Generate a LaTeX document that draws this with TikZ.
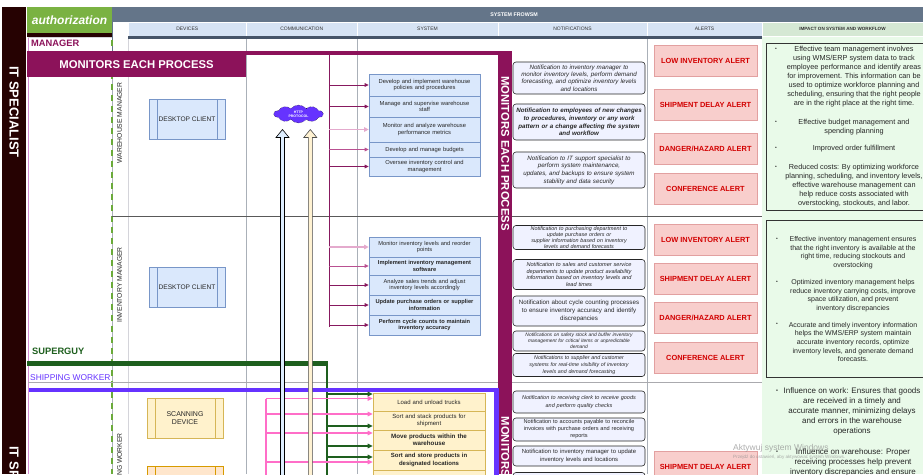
\documentclass[tikz,border=0pt]{standalone}
\usepackage{fontspec}
\setmainfont{Liberation Sans}
\usetikzlibrary{shapes.symbols,arrows.meta,calc}
\definecolor{darkbar}{RGB}{38,2,2}
\definecolor{authgreen}{RGB}{122,178,66}
\definecolor{slate}{RGB}{100,117,137}
\definecolor{slatedark}{RGB}{70,84,104}
\definecolor{hdrblue}{RGB}{214,227,244}
\definecolor{hdrgreen}{RGB}{213,232,212}
\definecolor{panelgreen}{RGB}{233,250,233}
\definecolor{maroon}{RGB}{140,18,90}
\definecolor{arrmaroon}{RGB}{135,25,95}
\definecolor{arrmid}{RGB}{185,80,145}
\definecolor{arrlight}{RGB}{228,170,205}
\definecolor{sysfill}{RGB}{218,232,252}
\definecolor{sysline}{RGB}{120,150,200}
\definecolor{begefill}{RGB}{255,242,204}
\definecolor{begeline}{RGB}{214,182,86}
\definecolor{orfill}{RGB}{255,230,204}
\definecolor{orline}{RGB}{215,155,0}
\definecolor{notiffill}{RGB}{240,242,255}
\definecolor{alertfill}{RGB}{248,206,204}
\definecolor{alertline}{RGB}{226,160,160}
\definecolor{alertred}{RGB}{210,0,0}
\definecolor{superg}{RGB}{30,95,30}
\definecolor{shipv}{RGB}{102,51,255}
\definecolor{hotpink}{RGB}{255,110,200}
\definecolor{dashgreen}{RGB}{106,170,58}
\definecolor{gridgray}{RGB}{170,176,184}
\definecolor{lightgrid}{RGB}{212,212,218}
\definecolor{lanepink}{RGB}{210,140,210}
\definecolor{cloudpurple}{RGB}{102,51,255}
\definecolor{arrblue}{RGB}{222,238,255}
\definecolor{arrbeige}{RGB}{255,242,210}
\newcommand{\myfs}[2]{\fontsize{#1}{#2}\selectfont}
\begin{document}
\begin{tikzpicture}[x=1pt,y=-1pt,
  sysbox/.style={draw=sysline, fill=sysfill, line width=0.7pt, minimum width=111pt, text width=109pt, align=center, inner xsep=1pt, inner ysep=0pt, font=\myfs{5.8}{6.8}, text=black!85},
  begebox/.style={sysbox, draw=begeline, fill=begefill, minimum width=112pt, text width=110pt, font=\myfs{6}{7.2}},
  notif/.style={draw=black!85, fill=notiffill, rounded corners=3pt, line width=0.6pt, minimum width=132pt, text width=130pt, align=center, inner xsep=1pt, inner ysep=0pt, text=black!85},
  alertbox/.style={draw=alertline, fill=alertfill, line width=0.9pt, minimum width=103pt, minimum height=31pt, inner sep=0pt, font=\myfs{7.4}{8}\bfseries, text=alertred},
  devblue/.style={draw=sysline, fill=sysfill, line width=0.7pt, minimum width=76pt, minimum height=40pt, inner sep=0pt, align=center, font=\myfs{6.6}{8}, text=black!85,
     path picture={\draw[line width=0.7pt, draw=sysline] ([xshift=8pt]path picture bounding box.north west) -- ([xshift=8pt]path picture bounding box.south west) ([xshift=-8pt]path picture bounding box.north east) -- ([xshift=-8pt]path picture bounding box.south east);}},
  devbege/.style={devblue, draw=begeline, fill=begefill, font=\myfs{7}{8.4},
     path picture={\draw[line width=0.7pt, draw=begeline] ([xshift=8pt]path picture bounding box.north west) -- ([xshift=8pt]path picture bounding box.south west) ([xshift=-8pt]path picture bounding box.north east) -- ([xshift=-8pt]path picture bounding box.south east);}},
  devorange/.style={devblue, draw=orline, fill=orfill,
     path picture={\draw[line width=0.7pt, draw=orline] ([xshift=8pt]path picture bounding box.north west) -- ([xshift=8pt]path picture bounding box.south west) ([xshift=-8pt]path picture bounding box.north east) -- ([xshift=-8pt]path picture bounding box.south east);}},
  hdr/.style={fill=hdrblue, draw=white, line width=0.8pt, inner sep=0pt, minimum height=14pt, font=\myfs{5}{6}, text=black!80},
  bentext/.style={align=center, inner sep=0pt, text=black!85},
  bul/.style={inner sep=0pt, font=\myfs{5}{5}, text=black!85},
  lane/.style={rotate=90, inner sep=0pt, font=\myfs{6.8}{7}, text=black!85},
  marr/.style={draw=arrmaroon, line width=0.9pt, -{Triangle[length=4pt,width=3.6pt]}},
  midarr/.style={marr, draw=arrmid},
  lightarr/.style={marr, draw=arrlight, line width=1.8pt, -{Triangle[length=4.5pt,width=4.5pt]}},
  pinkarr/.style={draw=hotpink, line width=1.4pt, -{Triangle[length=5pt,width=4.5pt]}},
  greenarr/.style={draw=superg, line width=1.2pt, -{Triangle[length=5pt,width=4.5pt]}}
]
\useasboundingbox (0,0) rectangle (923,474);
\clip (0,0) rectangle (923,474);
\fill[white] (0,0) rectangle (923,474);
% green impact panel
\fill[panelgreen] (762,22) rectangle (923,474);
% left dark bar
\fill[darkbar] (2,7) rectangle (26,474);
\node[rotate=-90, text=white, font=\myfs{13}{14}\bfseries, inner sep=0pt] (itspec) at (14,112) {IT SPECIALIST};
\node[rotate=-90, text=white, font=\myfs{13}{14}\bfseries, inner sep=0pt, anchor=west] (itspec2) at (14,446) {IT SPECIALIST};
% authorization
\fill[authgreen] (27,7) rectangle (112,33);
\fill[darkbar] (27,33) rectangle (112,36.5);
\node[text=white, font=\myfs{12}{13}\bfseries\itshape, inner sep=0pt] (auth) at (69.5,20) {authorization};
% slate header
\fill[slate] (112,7) rectangle (923,22);
\node[text=white, font=\myfs{5.3}{6}\bfseries, inner sep=0pt] (sysfr) at (514,15) {SYSTEM FROWSM};
\node[hdr, minimum width=118.5pt] (hdev) at (187.25,29) {DEVICES};
\node[hdr, minimum width=110.5pt] (hcom) at (301.75,29) {COMMUNICATION};
\node[hdr, minimum width=141pt] (hsys) at (427.5,29) {SYSTEM};
\node[hdr, minimum width=149pt] (hnot) at (572.5,29) {NOTIFICATIONS};
\node[hdr, minimum width=115pt] (hale) at (704.5,29) {ALERTS};
\node[hdr, fill=hdrgreen, minimum width=161pt, font=\myfs{4.6}{5}\bfseries] (himp) at (842.5,29) {IMPACT ON SYSTEM AND WORKFLOW};
\fill[slatedark] (128,36) rectangle (762,39);
% grid lines
\draw[slate, line width=1.2pt] (112.5,7) -- (112.5,52);
\draw[gridgray, line width=0.6pt] (112.5,52) -- (112.5,474);
\draw[dashgreen, line width=2.2pt, dash pattern=on 6pt off 5pt] (112,40) -- (112,474);
\draw[lightgrid, line width=0.6pt] (128,39) -- (128,474);
\draw[gridgray, line width=0.7pt] (246.5,39) -- (246.5,474);
\draw[gridgray, line width=0.7pt] (357,39) -- (357,474);
\draw[gridgray, line width=0.7pt] (647,39) -- (647,474);
\draw[lanepink, line width=0.8pt] (28.5,37) -- (28.5,474);
\draw[lightgrid, line width=0.6pt] (28,37.5) -- (112,37.5);
\draw[black!65, line width=0.9pt] (112,216) -- (762,216);
\draw[lightgrid!80!black, line width=0.6pt] (28,382.5) -- (762,382.5);
% manager label
\node[anchor=west, text=maroon, font=\myfs{9.3}{10}\bfseries, inner sep=0pt] (mgr) at (31,43.5) {MANAGER};
% monitors frame
\fill[maroon] (27,50.5) rectangle (512,55);
\fill[maroon] (27,51) rectangle (246,77);
\node[text=white, font=\myfs{11.3}{12}\bfseries, inner sep=0pt] (mon1) at (136.5,64.5) {MONITORS EACH PROCESS};
\fill[maroon] (498,51) rectangle (512,474);
\node[rotate=-90, text=white, font=\myfs{11.3}{12}\bfseries, inner sep=0pt] (mon2) at (505.3,153.5) {MONITORS EACH PROCESS};
\node[rotate=-90, text=white, font=\myfs{11.3}{12}\bfseries, inner sep=0pt, anchor=west] (mon3) at (505.3,416.5) {MONITORS EACH PROCESS};
% lanes
\node[lane] (lwm) at (119.5,123) {WAREHOUSE MANAGER};
\node[lane] (lim) at (119.5,285) {INVENTORY MANAGER};
\node[lane, anchor=east] (lrw) at (119.5,433) {RECEIVING WORKER};
% devices
\node[devblue] (dc1) at (187,119) {DESKTOP CLIENT};
\node[devblue] (dc2) at (187,287) {DESKTOP CLIENT};
\node[devbege] (scan) at (185,418) {SCANNING\\DEVICE};
\node[devorange] (dev4) at (185,486) {};
% maroon bus
\coordinate (bus) at (329.3,54);
\draw[arrmaroon, line width=0.9pt] (bus) -- (329.3,327);
% warehouse manager system
\node[sysbox, minimum height=22pt] (s1) at (424.5,85) {Develop and implement warehouse\\policies and procedures};
\node[sysbox, minimum height=21pt] (s2) at (424.5,106.5) {Manage and supervise warehouse\\staff};
\node[sysbox, minimum height=25pt] (s3) at (424.5,129.5) {Monitor and analyze warehouse\\performance metrics};
\node[sysbox, minimum height=15pt] (s4) at (424.5,149.5) {Develop and manage budgets};
\node[sysbox, minimum height=19pt] (s5) at (424.5,166.5) {Oversee inventory control and\\management};
\draw[marr] (bus |- s1.west) -- (s1.west);
\draw[marr] (bus |- s2.west) -- (s2.west);
\draw[lightarr] (bus |- s3.west) -- (s3.west);
\draw[midarr] (bus |- s4.west) -- (s4.west);
\draw[marr] (bus |- s5.west) -- (s5.west);
% inventory manager system
\node[sysbox, minimum height=20pt, font=\myfs{5.7}{6.7}] (i1) at (424.5,247) {Monitor inventory levels and reorder\\points};
\node[sysbox, minimum height=18pt, font=\myfs{5.7}{6.7}\bfseries] (i2) at (424.5,266) {Implement inventory management\\software};
\node[sysbox, minimum height=20pt, font=\myfs{5.7}{6.7}] (i3) at (424.5,285) {Analyze sales trends and adjust\\inventory levels accordingly};
\node[sysbox, minimum height=20pt, font=\myfs{5.7}{6.9}\bfseries] (i4) at (424.5,305) {Update purchase orders or supplier\\information};
\node[sysbox, minimum height=20pt, font=\myfs{5.7}{6.9}\bfseries] (i5) at (424.5,325) {Perform cycle counts to maintain\\inventory accuracy};
\draw[lightarr] (bus |- i1.west) -- (i1.west);
\draw[midarr] (bus |- i2.west) -- (i2.west);
\draw[marr] (bus |- i3.west) -- (i3.west);
\draw[marr] (bus |- i4.west) -- (i4.west);
\draw[marr] (bus |- i5.west) -- (i5.west);
% superguy and shipping worker
\node[anchor=west, text=superg, font=\myfs{9.3}{10}\bfseries, inner sep=0pt] (sg) at (32,351) {SUPERGUY};
\coordinate (sgA) at (27,363);
\coordinate (sgB) at (328,363);
\draw[superg, line width=5pt] (sgA) -- (sgB);
\draw[superg, line width=2.5pt] (326.8,361) -- (326.8,480);
\node[anchor=west, text=shipv, font=\myfs{8.4}{9}, inner sep=0pt] (sw) at (30,378) {SHIPPING WORKER};
\coordinate (shA) at (29,390);
\draw[shipv, line width=4.8pt, line join=miter] (shA) -- (496.5,390) -- (496.5,480);
% bottom system
\node[begebox, minimum height=18pt] (b1) at (429,402) {Load and unload trucks};
\node[begebox, minimum height=19pt] (b2) at (429,420.5) {Sort and stack products for\\shipment};
\node[begebox, minimum height=20pt, font=\myfs{6.2}{7.4}\bfseries] (b3) at (429,440) {Move products within the\\warehouse};
\node[begebox, minimum height=20pt, font=\myfs{6}{7.4}\bfseries] (b4) at (429,460) {Sort and store products in\\designated locations};
\node[begebox, minimum height=20pt] (b5) at (429,480) {};
\coordinate (pk1) at (266,398.5);
\coordinate (pk2) at (266,414);
\coordinate (pk3) at (266,433);
\coordinate (pk4) at (266,462);
\draw[hotpink, line width=1.4pt] (pk1) -- (266,480);
\draw[pinkarr] (pk1) -- (pk1 -| b1.west);
\draw[pinkarr] (pk2) -- (pk2 -| b2.west);
\draw[pinkarr] (pk3) -- (pk3 -| b3.west);
\draw[pinkarr] (pk4) -- (pk4 -| b4.west);
\coordinate (gr1) at (326.8,394);
\coordinate (gr2) at (326.8,426);
\coordinate (gr3) at (326.8,446);
\coordinate (gr4) at (326.8,457);
\draw[greenarr] (gr1) -- (gr1 -| b1.west);
\draw[greenarr] (gr2) -- (gr2 -| b2.west);
\draw[greenarr] (gr3) -- (gr3 -| b3.west);
\draw[greenarr] (gr4) -- (gr4 -| b4.west);
% block arrows and cloud
\draw[black, line width=0.6pt, fill=arrblue] (282.5,129.5) -- (289,137.5) -- (284.5,137.5) -- (284.5,480) -- (280.5,480) -- (280.5,137.5) -- (276,137.5) -- cycle;
\draw[black!70, line width=0.6pt, fill=arrbeige] (310.3,129.5) -- (316.8,137.5) -- (312.3,137.5) -- (312.3,480) -- (308.3,480) -- (308.3,137.5) -- (303.8,137.5) -- cycle;
\node[cloud, cloud puffs=10, cloud puff arc=100, aspect=2.7, draw=black, densely dotted, fill=cloudpurple, minimum width=49pt, minimum height=18pt, inner sep=0pt, text=white, align=center, font=\myfs{3.5}{4}\bfseries] (cloud) at (298.5,114) {HTTP\\PROTOCOL};
% notifications top
\node[notif, minimum height=32pt, font=\myfs{6.2}{7.4}\itshape] (n1) at (579,78) {Notification to inventory manager to\\monitor inventory levels, perform demand\\forecasting, and optimize inventory levels\\and locations};
\node[notif, minimum height=36pt, font=\myfs{6.2}{7.6}\bfseries\itshape] (n2) at (579,122) {Notification to employees of new changes\\to procedures, inventory or any work\\pattern or a change affecting the system\\and workflow};
\node[notif, minimum height=36pt, font=\myfs{6.2}{7.6}\itshape] (n3) at (579,170) {Notification to IT support specialist to\\perform system maintenance,\\updates, and backups to ensure system\\stability and data security};
% notifications inventory
\node[notif, minimum height=24pt, font=\myfs{5.4}{5.9}\itshape] (m1) at (579,237.5) {Notification to purchasing department to\\update purchase orders or\\supplier information based on inventory\\levels and demand forecasts};
\node[notif, minimum height=30pt, font=\myfs{5.6}{6.7}\itshape] (m2) at (579,274.5) {Notification to sales and customer service\\departments to update product availability\\information based on inventory levels and\\lead times};
\node[notif, minimum height=30pt, font=\myfs{6.2}{8}] (m3) at (579,311) {Notification about cycle counting processes\\to ensure inventory accuracy and identify\\discrepancies};
\node[notif, minimum height=20pt, font=\myfs{4.9}{5.8}\itshape] (m4) at (579,341) {Notifications on safety stock and buffer inventory\\management for critical items or unpredictable\\demand};
\node[notif, minimum height=23pt, font=\myfs{5.3}{6.7}\itshape] (m5) at (579,365) {Notifications to supplier and customer\\systems for real-time visibility of inventory\\levels and demand forecasting};
% notifications bottom
\node[notif, minimum height=22pt, font=\myfs{5.5}{8.4}\itshape] (r1) at (579,402) {Notification to receiving clerk to receive goods\\and perform quality checks};
\node[notif, minimum height=23pt, font=\myfs{5.6}{7}] (r2) at (579,429.5) {Notification to accounts payable to reconcile\\invoices with purchase orders and receiving\\reports};
\node[notif, minimum height=20pt, font=\myfs{5.9}{7.8}] (r3) at (579,456) {Notification to inventory manager to update\\inventory levels and locations};
\node[notif, minimum height=25pt] (r4) at (579,485) {};
% alerts
\node[alertbox] (a1) at (705.5,61) {LOW INVENTORY ALERT};
\node[alertbox] (a2) at (705.5,105) {SHIPMENT DELAY ALERT};
\node[alertbox] (a3) at (705.5,149) {DANGER/HAZARD ALERT};
\node[alertbox] (a4) at (705.5,188.5) {CONFERENCE ALERT};
\node[alertbox] (a5) at (705.5,240) {LOW INVENTORY ALERT};
\node[alertbox] (a6) at (705.5,279) {SHIPMENT DELAY ALERT};
\node[alertbox] (a7) at (705.5,318) {DANGER/HAZARD ALERT};
\node[alertbox] (a8) at (705.5,357.5) {CONFERENCE ALERT};
\node[alertbox] (a9) at (705.5,466.5) {SHIPMENT DELAY ALERT};
% impact boxes
\draw[black!80, line width=0.8pt] (766,43) rectangle (925,210);
\draw[black!80, line width=0.8pt] (766,220) rectangle (925,377);
\node[bentext, font=\myfs{7.3}{9}] (e1) at (854,76.7) {Effective team management involves\\using WMS/ERP system data to track\\employee performance and identify areas\\for improvement. This information can be\\used to optimize workforce planning and\\scheduling, ensuring that the right people\\are in the right place at the right time.};
\node[bentext, font=\myfs{7.3}{9}] (e2) at (854,127) {Effective budget management and\\spending planning};
\node[bentext, font=\myfs{7.3}{9}] (e3) at (854,148.5) {Improved order fulfillment};
\node[bentext, font=\myfs{7.3}{9}] (e4) at (854,185.4) {Reduced costs: By optimizing workforce\\planning, scheduling, and inventory levels,\\effective warehouse management can\\help reduce costs associated with\\overstocking, stockouts, and labor.};
\node[bul] (u1) at (776,49.5) {•};
\node[bul] (u2) at (776,122) {•};
\node[bul] (u3) at (776,148.5) {•};
\node[bul] (u4) at (776,167) {•};
\node[bentext, font=\myfs{7}{8.7}] (f1) at (853,252.7) {Effective inventory management ensures\\that the right inventory is available at the\\right time, reducing stockouts and\\overstocking};
\node[bentext, font=\myfs{7}{8.7}] (f2) at (853,295.7) {Optimized inventory management helps\\reduce inventory carrying costs, improve\\space utilization, and prevent\\inventory discrepancies};
\node[bentext, font=\myfs{7}{8.7}] (f3) at (853,342) {Accurate and timely inventory information\\helps the WMS/ERP system maintain\\accurate inventory records, optimize\\inventory levels, and generate demand\\forecasts.};
\node[bul] (v1) at (777,239) {•};
\node[bul] (v2) at (777,282) {•};
\node[bul] (v3) at (777,324) {•};
\node[bentext, font=\myfs{8}{10}] (g1) at (852,411.8) {Influence on work: Ensures that goods\\are received in a timely and\\accurate manner, minimizing delays\\and errors in the warehouse\\operations};
\node[bentext, font=\myfs{8}{10}] (g2) at (853,462.8) {Influence on warehouse: Proper\\receiving processes help prevent\\inventory discrepancies and ensure};
\node[bul, font=\myfs{5.5}{5.5}] (w1) at (777,391) {•};
\node[bul, font=\myfs{5.5}{5.5}] (w2) at (777,452) {•};
% watermark
\node[anchor=west, inner sep=0pt, text=black!45, opacity=0.7, font=\myfs{8.5}{9}] (wm1) at (733,448) {Aktywuj system Windows};
\node[anchor=west, inner sep=0pt, text=black!45, opacity=0.7, font=\myfs{4.6}{5}] (wm2) at (733,457.5) {Przejdź do ustawień, aby aktywować system Windows.};
\end{tikzpicture}
\end{document}
